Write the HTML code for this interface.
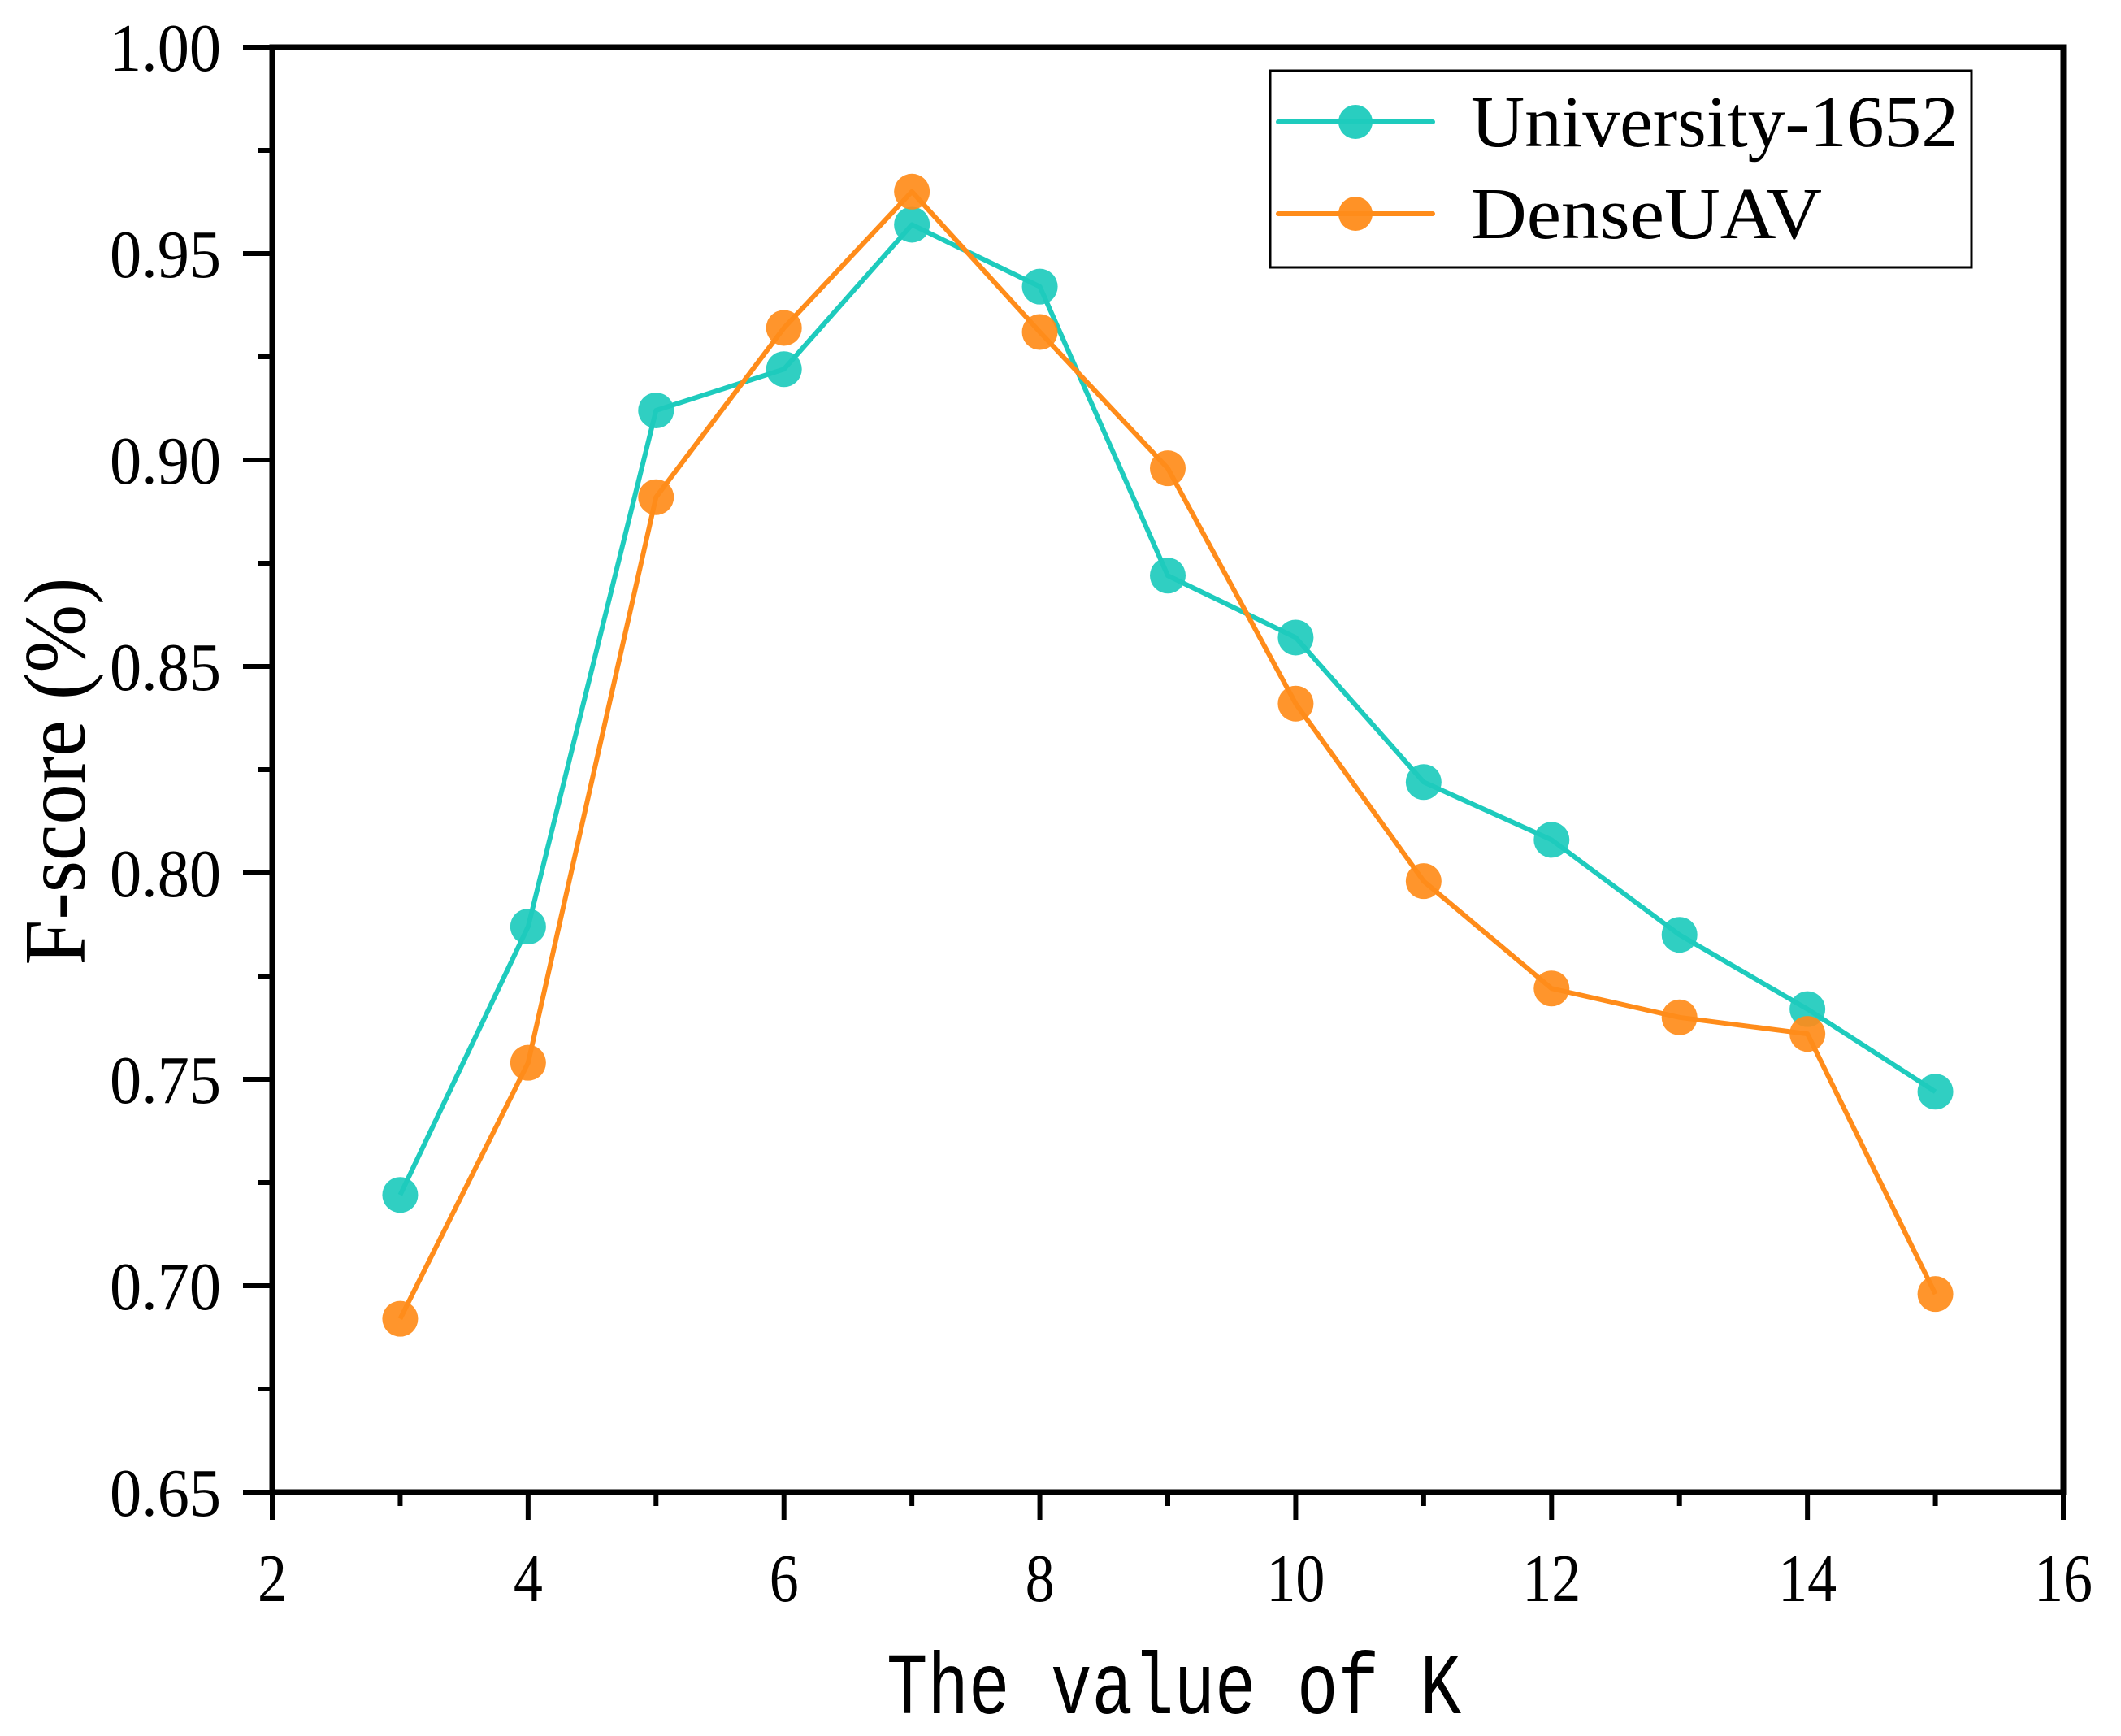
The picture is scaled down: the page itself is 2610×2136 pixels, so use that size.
<!DOCTYPE html>
<html><head><meta charset="utf-8"><style>html,body{margin:0;padding:0;background:#fff}svg{display:block}</style></head>
<body>
<svg id="chart" width="2610" height="2136" viewBox="0 0 2610 2136" xmlns="http://www.w3.org/2000/svg" font-family="'Liberation Serif', serif">
<g id="marks"></g>
<g id="axes"></g>
<g>
  <rect x="1563" y="87" width="863" height="242" fill="#fff" stroke="#000" stroke-width="3"/>
  <g>
    <line x1="1573" y1="150" x2="1763" y2="150" stroke="#1ecbbd" stroke-width="6" stroke-linecap="round"/>
    <circle cx="1668" cy="150" r="21" fill="#1ecbbd" opacity="0.95"/>
    <text x="1810" y="180" font-size="90" textLength="600" lengthAdjust="spacingAndGlyphs">University-1652</text>
  </g>
  <g>
    <line x1="1573" y1="263" x2="1763" y2="263" stroke="#ff8c1a" stroke-width="6" stroke-linecap="round"/>
    <circle cx="1668" cy="263" r="21" fill="#ff8c1a" opacity="0.95"/>
    <text x="1810" y="293" font-size="90" textLength="432" lengthAdjust="spacingAndGlyphs">DenseUAV</text>
  </g>
</g>
<text transform="translate(104,949) rotate(-90)" text-anchor="middle" font-size="108" textLength="477" lengthAdjust="spacingAndGlyphs">F-score (%)</text>
<text x="1091" y="2108" font-family="'Liberation Mono', monospace" font-size="108" textLength="707" lengthAdjust="spacingAndGlyphs">The value of K</text>
<script>
const kValues = [3,4,5,6,7,8,9,10,11,12,13,14,15];
const universityScores = [0.722,0.787,0.912,0.922,0.957,0.942,0.872,0.857,0.822,0.808,0.785,0.767,0.747];
const denseUavScores = [0.692,0.754,0.891,0.932,0.965,0.931,0.898,0.841,0.798,0.772,0.765,0.761,0.698];
const xTicks = [2,4,6,8,10,12,14,16];
const yTicks = [0.65,0.70,0.75,0.80,0.85,0.90,0.95,1.00];
const yTickLabels = ["0.65","0.70","0.75","0.80","0.85","0.90","0.95","1.00"];

const X0=335, X1=2539, Y0=1836, Y1=58;
const xMin=2, xMax=16, yMin=0.65, yMax=1.00;
function sx(v){return X0+(v-xMin)/(xMax-xMin)*(X1-X0);}
function sy(v){return Y0-(v-yMin)/(yMax-yMin)*(Y0-Y1);}
const NS="http://www.w3.org/2000/svg";
function mk(tag,attrs,parent){const e=document.createElementNS(NS,tag);for(const k in attrs)e.setAttribute(k,attrs[k]);parent.appendChild(e);return e;}

const axes=document.getElementById('axes');
const frame=mk('rect',{x:X0,y:Y1,width:X1-X0,height:Y0-Y1,fill:'none',stroke:'#000','stroke-width':7},axes);


for(let v=xMin; v<=xMax; v+=1){
  const major = v%2===0;
  const t=mk('line',{x1:sx(v),x2:sx(v),y1:Y0,y2:Y0+(major?34:17),stroke:'#000','stroke-width':6},axes);
  
  
}
xTicks.forEach(v=>{
  const t=mk('text',{x:sx(v),y:1970,'text-anchor':'middle','font-size':84,'textLength':String(v).length*36,'lengthAdjust':'spacingAndGlyphs'},axes);
  t.textContent=String(v);
  
  
});
for(let i=0;i<=14;i++){
  const v=yMin+i*0.025;
  const major=i%2===0;
  const t=mk('line',{x1:X0-(major?36:18),x2:X0,y1:sy(v),y2:sy(v),stroke:'#000','stroke-width':6},axes);
  
  
}
yTicks.forEach((v,i)=>{
  const t=mk('text',{x:272,y:sy(v)+29,'text-anchor':'end','font-size':84,'textLength':137,'lengthAdjust':'spacingAndGlyphs'},axes);
  t.textContent=yTickLabels[i];
  
  
});

const marks=document.getElementById('marks');
function series(vals,color,name){
  const g=mk('g',{},marks);
  
  
  const pts=kValues.map((k,i)=>sx(k)+','+sy(vals[i])).join(' ');
  const pl=mk('polyline',{points:pts,fill:'none',stroke:color,'stroke-width':6,'stroke-linejoin':'round'},g);
  
  
  kValues.forEach((k,i)=>{
    const c=mk('circle',{cx:sx(k),cy:sy(vals[i]),r:22,fill:color,opacity:0.92},g);
    
    
  });
}
series(universityScores,'#1ecbbd','university-1652');
series(denseUavScores,'#ff8c1a','denseuav');
</script>
</svg>
</body></html>
